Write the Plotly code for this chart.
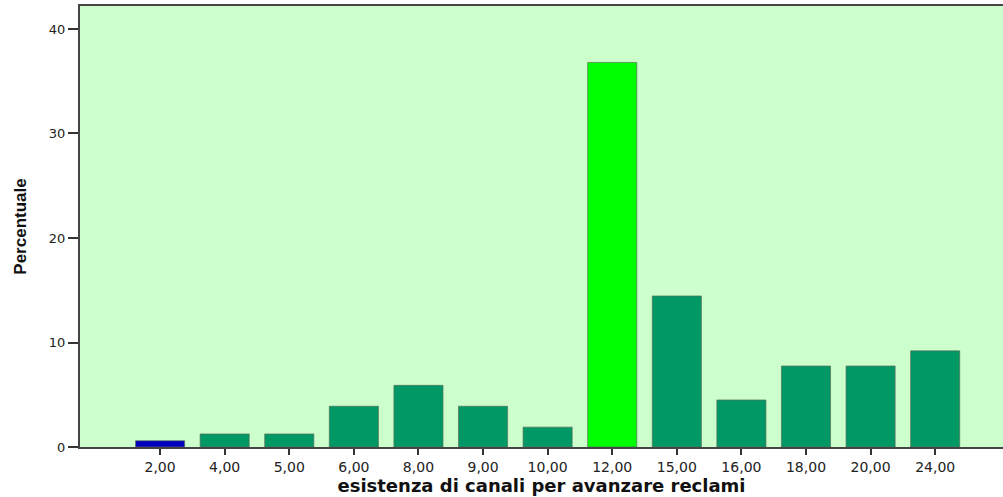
import plotly.graph_objects as go

categories = ["2,00", "4,00", "5,00", "6,00", "8,00", "9,00", "10,00",
              "12,00", "15,00", "16,00", "18,00", "20,00", "24,00"]
percent = [0.6, 1.25, 1.25, 3.9, 5.9, 3.9, 1.9, 36.8, 14.45, 4.5, 7.75, 7.75, 9.2]
bar_colors = ["#0000c0"] + ["#009966"] * 6 + ["#00ff00"] + ["#009966"] * 5

y_ticks = [0, 10, 20, 30, 40]
y_tick_labels = ["0", "10", "20", "30", "40"]

fig = go.Figure()
fig.add_trace(go.Bar(
    x=list(range(len(categories))),
    y=percent,
    marker=dict(color=bar_colors, line=dict(color="rgba(90,110,90,0.7)", width=1)),
    width=0.76,
    showlegend=False,
))

fig.update_layout(
    width=1003, height=497,
    margin=dict(l=80, r=0, t=6, b=50, pad=0),
    paper_bgcolor="white",
    plot_bgcolor="#ccffcc",
    font=dict(family="DejaVu Sans, Verdana, sans-serif", color="#222"),
    xaxis=dict(
        automargin=False,
        range=[-1.24, 13.05],
        tickmode="array",
        tickvals=list(range(len(categories))),
        ticktext=categories,
        ticks="outside", ticklen=6, tickcolor="#333", tickwidth=2,
        tickfont=dict(size=14, color="#222"),
        showgrid=False, zeroline=False,
        showline=True, linecolor="#444", linewidth=2, mirror=True,
        title=dict(text="<b>esistenza di canali per avanzare reclami</b>",
                   font=dict(size=18, family="DejaVu Sans, Verdana, sans-serif", color="#111"),
                   standoff=5),
    ),
    yaxis=dict(
        automargin=False,
        range=[0, 42.2],
        tickmode="array",
        tickvals=y_ticks,
        ticktext=y_tick_labels,
        ticks="outside", ticklen=10, tickcolor="#333", tickwidth=2,
        tickfont=dict(size=13, color="#222"),
        showgrid=False, zeroline=False,
        showline=True, linecolor="#444", linewidth=2,
        title=dict(text="<b>Percentuale</b>",
                   font=dict(size=17, family="Liberation Sans Narrow, Arial Narrow, sans-serif", color="#111"),
                   standoff=18),
    ),
)

fig.write_html("out.html", config={"displayModeBar": False},
               post_script="document.body.style.margin='0';")
